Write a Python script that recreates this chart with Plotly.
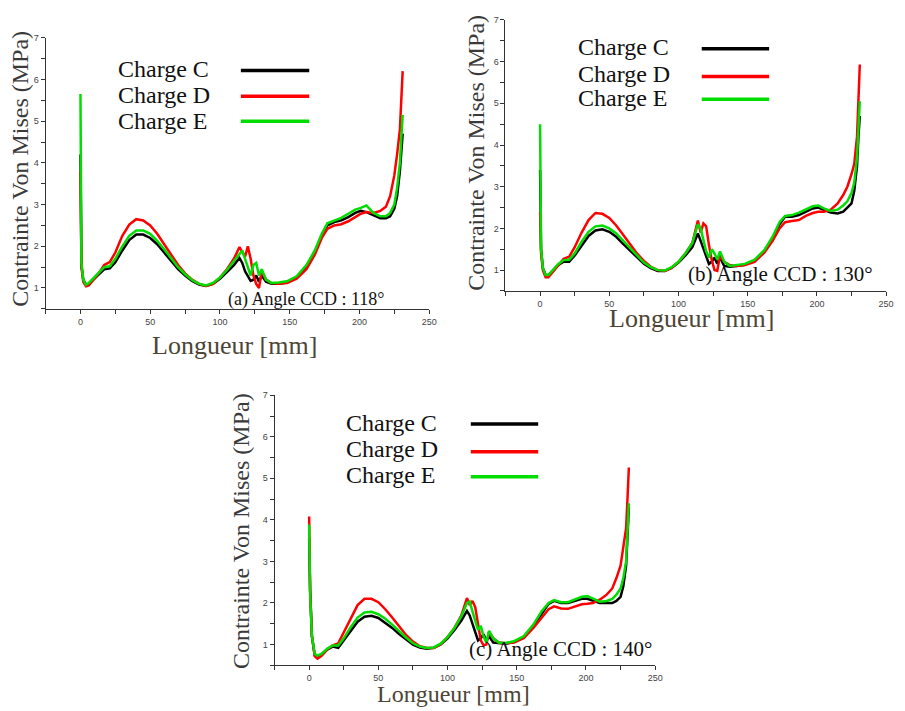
import plotly.graph_objects as go

W, H = 905, 711

# Shared abscissa (Longueur, mm)
x_mm = [0, 0.7, 2, 4, 6, 9, 13, 17, 21, 25, 30, 35, 40, 45, 50, 55, 60, 65, 70, 75,
        80, 85, 90, 95, 100, 105, 110, 114, 116, 118, 120, 122, 124, 126, 128, 130,
        133, 137, 142, 148, 155, 162, 168, 173, 177, 182, 187, 192, 197, 201, 205,
        210, 215, 219, 222, 225, 227, 229, 230, 231]

# Panel (a) Angle CCD 118°
a_C = [4.2, 1.55, 1.2, 1.08, 1.1, 1.2, 1.33, 1.45, 1.47, 1.62, 1.9, 2.15, 2.28, 2.28, 2.2, 2.05,
       1.85, 1.65, 1.45, 1.3, 1.17, 1.08, 1.05, 1.1, 1.22, 1.38, 1.55, 1.72, 1.6, 1.4, 1.3, 1.17,
       1.2, 1.3, 1.15, 1.3, 1.15, 1.1, 1.1, 1.13, 1.25, 1.5, 1.85, 2.25, 2.5, 2.58, 2.62, 2.7,
       2.8, 2.85, 2.82, 2.75, 2.67, 2.67, 2.72, 2.9, 3.2, 3.8, 4.3, 4.7]
a_D = [3.8, 1.5, 1.15, 1.04, 1.06, 1.18, 1.35, 1.55, 1.62, 1.85, 2.25, 2.52, 2.65, 2.62, 2.5, 2.3,
       2.05, 1.8, 1.55, 1.35, 1.2, 1.1, 1.05, 1.1, 1.25, 1.45, 1.7, 1.98, 1.85, 1.75, 2.0, 1.7,
       1.3, 1.1, 1.0, 1.4, 1.2, 1.12, 1.1, 1.12, 1.22, 1.45, 1.8, 2.2, 2.42, 2.5, 2.53, 2.6,
       2.7, 2.78, 2.82, 2.8, 2.85, 2.95, 3.2, 3.7, 4.2, 4.8, 5.5, 6.2]
a_E = [5.65, 1.6, 1.2, 1.08, 1.12, 1.22, 1.36, 1.5, 1.52, 1.7, 2.0, 2.25, 2.38, 2.38, 2.3, 2.13,
       1.93, 1.72, 1.5, 1.33, 1.19, 1.1, 1.06, 1.12, 1.25, 1.43, 1.65, 1.84, 1.9, 1.7, 1.5, 1.3,
       1.55, 1.6, 1.3, 1.45, 1.2, 1.12, 1.13, 1.16, 1.28, 1.55, 1.9, 2.3, 2.55, 2.62, 2.68, 2.78,
       2.88, 2.92, 2.98, 2.8, 2.72, 2.72, 2.8, 3.0, 3.4, 4.0, 4.6, 5.15]

# Panel (b) Angle CCD 130°
b_C = [3.4, 1.5, 1.05, 0.88, 0.88, 0.98, 1.12, 1.2, 1.2, 1.35, 1.6, 1.82, 1.95, 1.98, 1.92, 1.8,
       1.63, 1.47, 1.3, 1.15, 1.05, 0.98, 0.98, 1.05, 1.18, 1.35, 1.55, 1.88, 1.7, 1.5, 1.3, 1.15,
       1.2, 1.3, 1.15, 1.3, 1.1, 1.08, 1.1, 1.13, 1.23, 1.45, 1.75, 2.1, 2.28, 2.28, 2.32, 2.4,
       2.48, 2.5, 2.45, 2.38, 2.36, 2.4, 2.5, 2.6, 2.9, 3.5, 4.2, 4.7]
b_D = [2.4, 1.4, 1.0, 0.83, 0.83, 0.95, 1.13, 1.27, 1.32, 1.55, 1.9, 2.2, 2.37, 2.35, 2.25, 2.07,
       1.85, 1.62, 1.4, 1.22, 1.08, 1.0, 0.98, 1.05, 1.2, 1.4, 1.65, 2.19, 1.9, 2.12, 2.05, 1.6,
       1.25, 1.0, 0.98, 1.35, 1.2, 1.12, 1.1, 1.12, 1.2, 1.42, 1.7, 2.0, 2.15, 2.18, 2.2, 2.3,
       2.37, 2.4, 2.4, 2.45, 2.6, 2.8, 3.0, 3.3, 3.55, 4.2, 5.0, 5.93]
b_E = [4.5, 1.5, 1.05, 0.88, 0.88, 1.0, 1.14, 1.24, 1.25, 1.4, 1.68, 1.92, 2.05, 2.07, 2.0, 1.88,
       1.7, 1.52, 1.34, 1.18, 1.07, 1.0, 0.99, 1.07, 1.2, 1.4, 1.65, 2.1, 2.0, 1.7, 1.45, 1.3,
       1.5, 1.4, 1.25, 1.45, 1.2, 1.1, 1.12, 1.15, 1.25, 1.48, 1.8, 2.15, 2.3, 2.32, 2.38, 2.45,
       2.53, 2.55, 2.48, 2.42, 2.45, 2.55, 2.65, 2.85, 3.1, 3.7, 4.4, 5.05]

# Panel (c) Angle CCD 140°
c_C = [3.56, 2.3, 1.2, 0.75, 0.68, 0.75, 0.88, 0.95, 0.92, 1.1, 1.35, 1.55, 1.67, 1.69, 1.64, 1.53,
       1.4, 1.25, 1.12, 1.0, 0.93, 0.9, 0.92, 1.0, 1.15, 1.35, 1.58, 1.81, 1.7, 1.5, 1.3, 1.1,
       1.15, 1.25, 1.1, 1.2, 1.05, 1.03, 1.02, 1.06, 1.17, 1.45, 1.75, 1.98, 2.05, 2.0, 2.0, 2.05,
       2.1, 2.1, 2.05, 2.0, 2.0, 2.0, 2.05, 2.15, 2.4, 2.9, 3.6, 4.3]
c_D = [4.08, 2.3, 1.2, 0.72, 0.66, 0.73, 0.88, 0.98, 1.03, 1.3, 1.65, 1.95, 2.1, 2.1, 2.02, 1.85,
       1.65, 1.43, 1.23, 1.07, 0.96, 0.92, 0.92, 1.0, 1.18, 1.4, 1.7, 2.12, 1.95, 2.05, 1.9, 1.5,
       1.1, 0.98, 1.0, 1.3, 1.15, 1.05, 1.03, 1.05, 1.15, 1.4, 1.65, 1.85, 1.92, 1.87, 1.86, 1.92,
       1.97, 1.98, 2.0, 2.08, 2.2, 2.35, 2.6, 2.9, 3.3, 3.8, 4.5, 5.26]
c_E = [3.89, 2.2, 1.2, 0.78, 0.73, 0.78, 0.9, 0.98, 0.98, 1.15, 1.42, 1.65, 1.77, 1.79, 1.73, 1.62,
       1.48, 1.32, 1.17, 1.03, 0.95, 0.92, 0.93, 1.02, 1.18, 1.4, 1.68, 2.0, 2.04, 1.8, 1.55, 1.35,
       1.45, 1.2, 1.05, 1.33, 1.15, 1.05, 1.04, 1.08, 1.2, 1.48, 1.8, 2.0, 2.07, 2.02, 2.02, 2.08,
       2.15, 2.17, 2.1, 2.03, 2.05, 2.1, 2.2, 2.35, 2.6, 3.0, 3.7, 4.4]

series_names = ["Charge C", "Charge D", "Charge E"]
series_colors = ["#000000", "#ff0000", "#00dd00"]
panel_labels = ["(a) Angle CCD : 118°", "(b) Angle CCD : 130°", "(c) Angle CCD : 140°"]
y_tick_vals = [1, 2, 3, 4, 5, 6, 7]
x_tick_vals = [0, 50, 100, 150, 200, 250]

panels = [
    dict(data=[a_C, a_D, a_E], box=(46, 433, 33, 306)),
    dict(data=[b_C, b_D, b_E], box=(510, 894, 15, 288)),
    dict(data=[c_C, c_D, c_E], box=(277, 661, 393, 665)),
]

def px(x):
    return x / W

def py(y):
    return 1 - y / H

fig = go.Figure()
serif = "Liberation Serif, Times New Roman, serif"
sans = "Liberation Sans, Arial, sans-serif"

for i, p in enumerate(panels):
    n = "" if i == 0 else str(i + 1)
    for name, col, ys in zip(series_names, series_colors, p["data"]):
        fig.add_trace(go.Scatter(x=x_mm, y=ys, mode="lines", name=name, showlegend=False,
                                 line=dict(color=col, width=2.5), xaxis="x" + n, yaxis="y" + n))
    x0, x1, y0, y1 = p["box"]
    axcommon = dict(showgrid=False, zeroline=False, showline=True, linecolor="#333", linewidth=1,
                    ticks="outside", ticklen=4, tickcolor="#333",
                    tickfont=dict(family=sans, size=9, color="#444"))
    fig.update_layout(**{
        "xaxis" + n: dict(domain=[px(x0), px(x1)], range=[-25, 250], anchor="y" + n,
                          tickvals=x_tick_vals, minor=dict(dtick=25, ticks="outside", ticklen=4,
                                                          tickcolor="#333"),
                          **axcommon),
        "yaxis" + n: dict(domain=[py(y1), py(y0)], range=[0.5, 7], anchor="x" + n,
                          tickvals=y_tick_vals, minor=dict(dtick=0.5, ticks="outside", ticklen=4,
                                                          tickcolor="#333"),
                          **axcommon),
    })

annotations = []
shapes = []

# axis titles
ytitles = [(20, 165, 24), (480, 149, 24), (243, 530, 24)]
xtitles = [(237, 343, 26), (698, 316, 26), (458, 694, 24)]
for (xx, yy, fs) in ytitles:
    annotations.append(dict(x=px(xx), y=py(yy), xref="paper", yref="paper", text="Contrainte Von Mises (MPa)",
                            showarrow=False, textangle=-90, font=dict(family=serif, size=fs, color="#3a3a3a"),
                            xanchor="center", yanchor="middle"))
for (xx, yy, fs) in xtitles:
    annotations.append(dict(x=px(xx), y=py(yy), xref="paper", yref="paper", text="Longueur [mm]",
                            showarrow=False, font=dict(family=serif, size=fs, color="#4d4535"),
                            xanchor="center", yanchor="middle"))

# panel labels
plabels = [(390, 297, 18), (883, 271, 21), (660, 649, 21)]
for txt, (xx, yy, fs) in zip(panel_labels, plabels):
    annotations.append(dict(x=px(xx), y=py(yy), xref="paper", yref="paper", text=txt,
                            showarrow=False, font=dict(family=serif, size=fs, color="#111"),
                            xanchor="right", yanchor="middle"))

# legends (text left, line sample right)
legends = [
    dict(tx=117, lx=(243, 312), ys=[64, 91, 117], ly=[66, 92, 117], fs=24),
    dict(tx=581, lx=(708, 776), ys=[42, 69, 94], ly=[44, 72, 95], fs=24),
    dict(tx=347, lx=(475, 543), ys=[421, 447, 473], ly=[422, 450, 475], fs=24),
]
for lg in legends:
    for name, col, ty, ly in zip(series_names, series_colors, lg["ys"], lg["ly"]):
        annotations.append(dict(x=px(lg["tx"]), y=py(ty), xref="paper", yref="paper", text=name,
                                showarrow=False, font=dict(family=serif, size=lg["fs"], color="#111"),
                                xanchor="left", yanchor="middle"))
        shapes.append(dict(type="line", xref="paper", yref="paper", x0=px(lg["lx"][0]), x1=px(lg["lx"][1]),
                           y0=py(ly), y1=py(ly), line=dict(color=col, width=3.5)))

fig.update_layout(width=W, height=H, margin=dict(l=0, r=0, t=0, b=0),
                  paper_bgcolor="white", plot_bgcolor="white",
                  annotations=annotations, shapes=shapes, showlegend=False)

fig.write_html("out.html", config={"displayModeBar": False},
               post_script="document.body.style.margin='0';document.body.style.overflow='hidden';")
